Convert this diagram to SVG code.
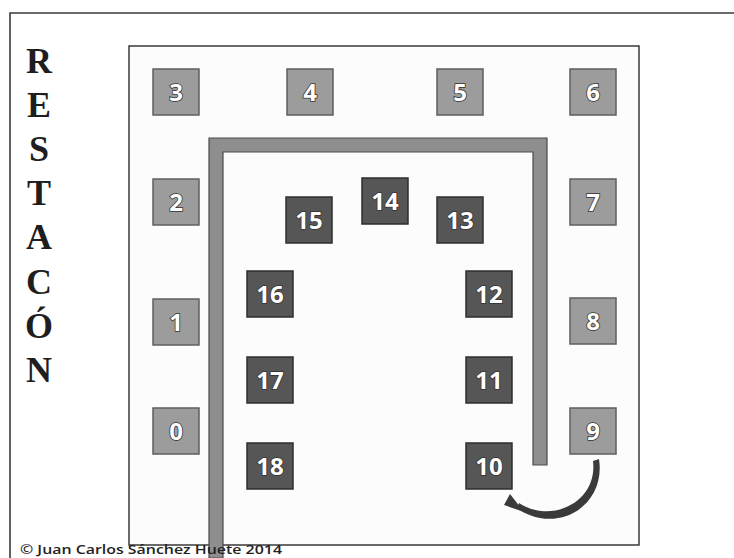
<svg xmlns="http://www.w3.org/2000/svg" width="734" height="558" viewBox="0 0 734 558">
<style>
.lt{fill:#9c9c9c;stroke:#5e5e5e;stroke-width:1.5}
.dk{fill:#565656;stroke:#2e2e2e;stroke-width:1.5}
.num{font-family:"Open Sans","DejaVu Sans",sans-serif;font-weight:bold;font-size:24px;fill:#fff;stroke:#333;stroke-width:1.6;paint-order:stroke;text-anchor:middle}
.side{font-family:"Liberation Serif","Times New Roman",serif;font-weight:bold;font-size:36px;fill:#1e1e1e;text-anchor:middle}
</style>
<rect width="734" height="558" fill="#fff"/>
<g id="frame" fill="none" stroke="#3a3a3a" stroke-width="1.6">
<path d="M10 558 V13 H734"/>
</g>
<rect id="room" x="129" y="46" width="510" height="499" fill="#fcfcfc" stroke="#3a3a3a" stroke-width="1.5"/>
<g id="title">
<text class="side" x="39" y="73">R</text>
<text class="side" x="39" y="117">E</text>
<text class="side" x="39" y="161">S</text>
<text class="side" x="39" y="205">T</text>
<text class="side" x="39" y="249">A</text>
<text class="side" x="39" y="294">C</text>
<text class="side" x="39" y="338">Ó</text>
<text class="side" x="39" y="382">N</text>
</g>
<g id="wall">
<path d="M209 558 V138 H547 V465 H533 V152 H223 V558 Z" fill="#8e8e8e" stroke="#4a4a4a" stroke-width="1.2"/>
</g>
<g id="n3"><rect class="lt" x="153" y="69" width="46" height="46"/><text class="num" x="176" y="101">3</text></g>
<g id="n4"><rect class="lt" x="287" y="69" width="46" height="46"/><text class="num" x="310" y="101">4</text></g>
<g id="n5"><rect class="lt" x="437" y="69" width="46" height="46"/><text class="num" x="460" y="101">5</text></g>
<g id="n6"><rect class="lt" x="570" y="69" width="46" height="46"/><text class="num" x="593" y="101">6</text></g>
<g id="n2"><rect class="lt" x="153" y="179" width="46" height="46"/><text class="num" x="176" y="211">2</text></g>
<g id="n7"><rect class="lt" x="570" y="179" width="46" height="46"/><text class="num" x="593" y="211">7</text></g>
<g id="n1"><rect class="lt" x="153" y="299" width="46" height="46"/><text class="num" x="176" y="331">1</text></g>
<g id="n8"><rect class="lt" x="570" y="298" width="46" height="46"/><text class="num" x="593" y="330">8</text></g>
<g id="n0"><rect class="lt" x="153" y="408" width="46" height="46"/><text class="num" x="176" y="440">0</text></g>
<g id="n9"><rect class="lt" x="570" y="408" width="46" height="46"/><text class="num" x="593" y="440">9</text></g>
<g id="n15"><rect class="dk" x="286" y="197" width="46" height="46"/><text class="num" x="309" y="229">15</text></g>
<g id="n14"><rect class="dk" x="362" y="178" width="46" height="46"/><text class="num" x="385" y="210">14</text></g>
<g id="n13"><rect class="dk" x="437" y="197" width="46" height="46"/><text class="num" x="460" y="229">13</text></g>
<g id="n16"><rect class="dk" x="247" y="271" width="46" height="46"/><text class="num" x="270" y="303">16</text></g>
<g id="n12"><rect class="dk" x="466" y="271" width="46" height="46"/><text class="num" x="489" y="303">12</text></g>
<g id="n17"><rect class="dk" x="247" y="357" width="46" height="46"/><text class="num" x="270" y="389">17</text></g>
<g id="n11"><rect class="dk" x="466" y="357" width="46" height="46"/><text class="num" x="489" y="389">11</text></g>
<g id="n18"><rect class="dk" x="247" y="443" width="46" height="46"/><text class="num" x="270" y="475">18</text></g>
<g id="n10"><rect class="dk" x="466" y="443" width="46" height="46"/><text class="num" x="489" y="475">10</text></g>
<g id="connectors">
<path d="M593 461 L599 459 C605 497 574 524 540 518 C530 516 522 512 517 508 L519 503 C525 507 532 510 541 511 C568 514 597 494 593 461 Z" fill="#3a3a3a"/>
<polygon points="504,505 510,494 524,512" fill="#3a3a3a"/>
</g>
<text id="copyright" x="20" y="554" font-family="'Open Sans','DejaVu Sans',sans-serif" font-weight="600" font-size="13" fill="#222" textLength="262" lengthAdjust="spacingAndGlyphs">© Juan Carlos Sánchez Huete 2014</text>
</svg>
